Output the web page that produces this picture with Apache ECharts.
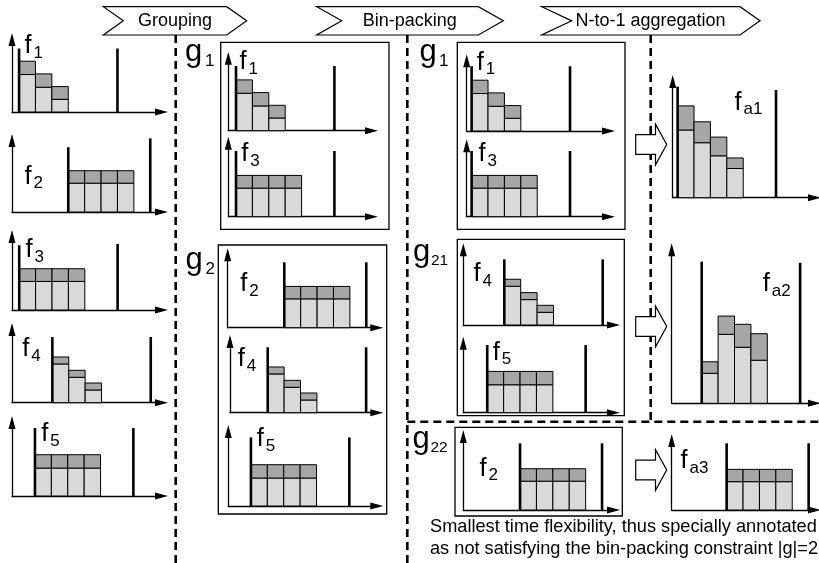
<!DOCTYPE html>
<html><head><meta charset="utf-8">
<script src="https://cdn.jsdelivr.net/npm/echarts@6/dist/echarts.min.js"></script>
<style>html,body{margin:0;padding:0;background:#fff}#c{width:819px;height:563px}</style>
</head><body><div id="c"></div>
<script>
// ---------- data ----------
// per-slot energy: minimum part (light) and flexible part (dark)
const f1Min = [2.95, 1.95, 1.0],        f1Flex = [1.05, 1.05, 1.0];
const f2Min = [2.27, 2.27, 2.27, 2.27], f2Flex = [0.98, 0.98, 0.98, 0.98];
const f3Min = [2.25, 2.25, 2.25, 2.25], f3Flex = [1.0, 1.0, 1.0, 1.0];
const f4Min = [3.05, 2.0, 1.0],         f4Flex = [0.55, 0.55, 0.55];
const f5Min = [2.2, 2.2, 2.2, 2.2],     f5Flex = [1.05, 1.05, 1.05, 1.05];
const fa1Min = [5.33, 4.33, 3.3, 2.3],  fa1Flex = [1.9, 1.65, 1.47, 0.83];
const fa2Min = [2.36, 5.43, 4.41, 3.39], fa2Flex = [0.91, 1.44, 1.81, 2.09];
const fa3Min = [2.23, 2.23, 2.23, 2.23], fa3Flex = [0.97, 0.97, 0.97, 0.97];
// earliest start slot and latest end slot of each flex-offer
const offerKeys      = ['f1', 'f2', 'f3', 'f4', 'f5', 'fa1', 'fa2', 'fa3'];
const earliestStart  = [0, 3, 0, 2, 1, 0, 1, 3];
const latestEnd      = [6, 8, 6, 8, 7, 6, 7, 8];
// panels: which offer each mini chart shows, and its marker-line heights
const panelOffer = ['f1','f2','f3','f4','f5', 'f1','f3','f2','f4','f5', 'f1','f3','f4','f5','f2', 'fa1','fa2','fa3'];
const startLineH = [5.0, 5.1, 5.1, 5.17, 5.35, 5.1, 5.17, 5.15, 5.15, 5.4, 5.1, 5.17, 5.17, 5.33, 5.25, 8.74, 11.15, 5.25];
const endLineH   = [5.0, 5.8, 5.2, 5.17, 5.35, 5.1, 5.17, 5.15, 5.15, 5.4, 5.1, 5.17, 5.17, 5.33, 5.25, 8.48, 11.07, 5.25];
// texts
const stageNames = ['Grouping', 'Bin-packing', 'N-to-1 aggregation'];
const groupNames = [['g', '1'], ['g', '2'], ['g', '1'], ['g', '21'], ['g', '22']];
const noteLines = ['Smallest time flexibility, thus specially annotated',
                   'as not satisfying the bin-packing constraint |g|=2'];

// ---------- layout ----------
const XU = 16.4, YU = 12.7;     // px per slot, px per energy unit
const LIGHT = '#d9d9d9', DARK = '#a6a6a6';
const FONT = '"Liberation Sans", Arial, sans-serif';
// panel layout: axis origin (ox, oy), x-arrow tip, y-arrow tip, x value at origin, label x, label baseline
const panelLayout = [
  [12, 112, 168, 33, -0.43, 25, 55],
  [12, 212, 168, 134, -0.43, 25, 185.5],
  [12, 310, 168, 230, -0.44, 26, 259],
  [12, 402.7, 168, 323, -0.46, 22.7, 358.3],
  [12, 496, 168, 416, -0.40, 41.7, 443.3],
  [228.3, 130.7, 378, 51.7, -0.47, 240, 71],
  [228.3, 216.7, 378, 136.7, -0.47, 241.7, 163.3],
  [227.7, 327.7, 383.3, 248.3, -0.45, 240.7, 293.3],
  [230, 412.7, 383.3, 335, -0.30, 238.3, 368.3],
  [228.3, 506, 383.3, 425, -0.38, 257.3, 448.3],
  [466.7, 131, 615, 54.3, -0.30, 477.3, 71.7],
  [466.7, 216.7, 615, 139.3, -0.30, 479, 163.3],
  [463.3, 325, 620, 243.3, -0.50, 474, 283.3],
  [463.3, 412.7, 620, 336.7, -0.46, 493.3, 361.7],
  [463.3, 510, 620, 430, -0.46, 480, 477.5],
  [672.7, 197.7, 821, 75, -0.30, 735, 111.7],
  [671.7, 403.3, 821, 243.3, -0.83, 763.3, 293.3],
  [671.7, 510, 821, 434, -0.35, 681, 470]
];

const profiles = {
  f1: [f1Min, f1Flex], f2: [f2Min, f2Flex], f3: [f3Min, f3Flex], f4: [f4Min, f4Flex],
  f5: [f5Min, f5Flex], fa1: [fa1Min, fa1Flex], fa2: [fa2Min, fa2Flex], fa3: [fa3Min, fa3Flex]
};

function renderBars(params, api) {
  const x = api.value(0), lo = api.value(1), hi = api.value(2);
  const p0 = api.coord([x, 0]), p1 = api.coord([x + 1, lo]), p2 = api.coord([x + 1, lo + hi]);
  const w = p1[0] - p0[0];
  return { type: 'group', children: [
    { type: 'rect', shape: { x: p0[0], y: p1[1], width: w, height: p0[1] - p1[1] },
      style: { fill: LIGHT, stroke: '#000', lineWidth: 1 } },
    { type: 'rect', shape: { x: p0[0], y: p2[1], width: w, height: p1[1] - p2[1] },
      style: { fill: DARK, stroke: '#000', lineWidth: 1 } }
  ]};
}
function renderLine(params, api) {
  const x = api.value(0), h = api.value(1);
  const a = api.coord([x, 0]), b = api.coord([x, h]);
  return { type: 'line', shape: { x1: a[0], y1: a[1], x2: b[0], y2: b[1] },
           style: { stroke: '#000', lineWidth: 2.6 } };
}

function text(x, base, s, size, align) {
  return { type: 'text', x: x, y: base - 0.3465 * size, silent: true,
    style: { text: s, font: size + 'px ' + FONT, fill: '#000', align: align || 'left',
             textAlign: align || 'left', verticalAlign: 'middle', textVerticalAlign: 'middle' } };
}
function subLabel(x, base, main, sub, mainSize, subSize, dx, dy) {
  return [text(x, base, main, mainSize), text(x + dx, base + dy, sub, subSize)];
}

const grid = [], xAxis = [], yAxis = [], series = [], graphic = [];
const axisCommon = {
  axisLine: { show: true, onZero: false, symbol: ['none', 'triangle'], symbolSize: [7, 13],
              lineStyle: { color: '#000', width: 1.3 } },
  axisTick: { show: false }, axisLabel: { show: false }, splitLine: { show: false }
};

panelOffer.forEach(function (key, i) {
  const [ox, oy, xt, yt, x0, lx, ly] = panelLayout[i];
  const w = xt - 6.5 - ox, top = yt + 6.5, h = oy - top;
  grid.push({ left: ox, top: top, width: w, height: h, containLabel: false });
  xAxis.push(Object.assign({ type: 'value', gridIndex: i, min: x0, max: x0 + w / XU }, axisCommon));
  yAxis.push(Object.assign({ type: 'value', gridIndex: i, min: 0, max: h / YU }, axisCommon));
  const k = offerKeys.indexOf(key);
  const s = earliestStart[k];
  const [mins, flex] = profiles[key];
  series.push({ type: 'custom', coordinateSystem: 'cartesian2d', xAxisIndex: i, yAxisIndex: i,
    renderItem: renderBars, z: 3, silent: true,
    data: mins.map(function (m, j) { return [s + j, m, flex[j]]; }) });
  series.push({ type: 'custom', coordinateSystem: 'cartesian2d', xAxisIndex: i, yAxisIndex: i,
    renderItem: renderLine, z: 4, silent: true,
    data: [[s, startLineH[i]], [latestEnd[k], endLineH[i]]] });
  graphic.push.apply(graphic, subLabel(lx - 0.5, ly, 'f', key.slice(1), 25.5, 17, 9, 4));
});

// stage banners
const bannerGeom = [[103.3, 123.3, 226.7, 246.7, 175], [316.7, 341.7, 478.3, 503.3, 409.7], [541.7, 571.7, 740, 760, 650.5]];
bannerGeom.forEach(function (b, i) {
  const y0 = 6.7, y1 = 35, ym = 20.85;
  graphic.push({ type: 'polygon', silent: true, shape: { points: [[b[0], y0], [b[2], y0], [b[3], ym], [b[2], y1], [b[0], y1], [b[1], ym]] },
    style: { fill: '#fff', stroke: '#000', lineWidth: 1.2 } });
  graphic.push(text(b[4], 27.3, stageNames[i], 18, 'center'));
});

// dashed separators
[[175.7, 35, 175.7, 563], [407.3, 35, 407.3, 563], [650.7, 35, 650.7, 421.7], [407.3, 421.7, 819, 421.7]].forEach(function (l) {
  graphic.push({ type: 'line', silent: true, shape: { x1: l[0], y1: l[1], x2: l[2], y2: l[3] },
    style: { stroke: '#000', lineWidth: 2.6, lineDash: [8, 5] } });
});

// group boxes
[[220.7, 42.3, 389, 229.3], [218.3, 245, 386.7, 514], [457.3, 42.3, 625, 229.3], [457.3, 239.3, 624.3, 415.7], [455, 427.3, 622.3, 516]].forEach(function (r) {
  graphic.push({ type: 'rect', silent: true, shape: { x: r[0], y: r[1], width: r[2] - r[0], height: r[3] - r[1] },
    style: { fill: 'none', stroke: '#000', lineWidth: 1.3 } });
});

// group labels
const groupPos = [[185, 63, 20, 4, 17], [185.5, 271.5, 20, 4, 17], [419.5, 63, 19.5, 4, 17], [413, 263.5, 18, 2.5, 15.5], [412.5, 450, 18, 3.5, 15.5]];
groupNames.forEach(function (g, i) {
  const p = groupPos[i];
  graphic.push.apply(graphic, subLabel(p[0], p[1], g[0], g[1], 31, p[4], p[2], p[3]));
});

// block arrows
[144.5, 326.5, 470].forEach(function (cy) {
  const x0 = 635.7, xh = 655.5, xt = 666.7, bh = 9.8, hh = 20.3;
  graphic.push({ type: 'polygon', silent: true,
    shape: { points: [[x0, cy - bh], [xh, cy - bh], [xh, cy - hh], [xt, cy], [xh, cy + hh], [xh, cy + bh], [x0, cy + bh]] },
    style: { fill: '#fff', stroke: '#000', lineWidth: 1.2 } });
});

// note
graphic.push(text(430, 533.7, noteLines[0], 18.2));
graphic.push(text(430, 555.3, noteLines[1], 18.2));

const chart = echarts.init(document.getElementById('c'), null, { renderer: 'canvas' });
chart.setOption({
  animation: false,
  backgroundColor: '#fff',
  grid: grid, xAxis: xAxis, yAxis: yAxis, series: series,
  graphic: { elements: graphic }
});
</script></body></html>
